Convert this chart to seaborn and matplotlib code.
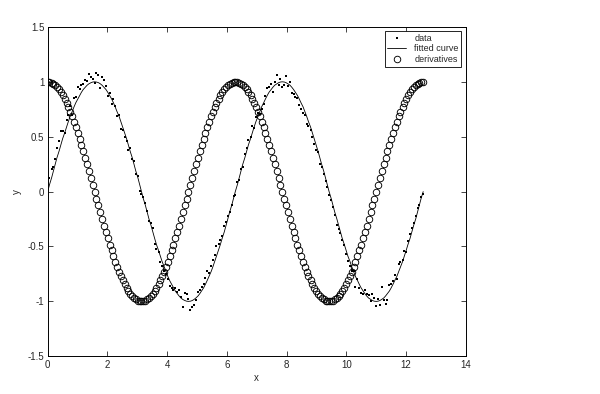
import matplotlib
matplotlib.use("Agg")
import matplotlib.pyplot as plt
import seaborn as sns

# sample positions (0 .. 4*pi)
x_vals = [
    0.00, 0.06, 0.13, 0.19, 0.25, 0.31, 0.38, 0.44, 0.50, 0.57,
    0.63, 0.69, 0.75, 0.82, 0.88, 0.94, 1.01, 1.07, 1.13, 1.19,
    1.26, 1.32, 1.38, 1.45, 1.51, 1.57, 1.63, 1.70, 1.76, 1.82,
    1.88, 1.95, 2.01, 2.07, 2.14, 2.20, 2.26, 2.32, 2.39, 2.45,
    2.51, 2.58, 2.64, 2.70, 2.76, 2.83, 2.89, 2.95, 3.02, 3.08,
    3.14, 3.20, 3.27, 3.33, 3.39, 3.46, 3.52, 3.58, 3.64, 3.71,
    3.77, 3.83, 3.90, 3.96, 4.02, 4.08, 4.15, 4.21, 4.27, 4.34,
    4.40, 4.46, 4.52, 4.59, 4.65, 4.71, 4.78, 4.84, 4.90, 4.96,
    5.03, 5.09, 5.15, 5.22, 5.28, 5.34, 5.40, 5.47, 5.53, 5.59,
    5.65, 5.72, 5.78, 5.84, 5.91, 5.97, 6.03, 6.09, 6.16, 6.22,
    6.28, 6.35, 6.41, 6.47, 6.53, 6.60, 6.66, 6.72, 6.79, 6.85,
    6.91, 6.97, 7.04, 7.10, 7.16, 7.23, 7.29, 7.35, 7.41, 7.48,
    7.54, 7.60, 7.67, 7.73, 7.79, 7.85, 7.92, 7.98, 8.04, 8.11,
    8.17, 8.23, 8.29, 8.36, 8.42, 8.48, 8.55, 8.61, 8.67, 8.73,
    8.80, 8.86, 8.92, 8.99, 9.05, 9.11, 9.17, 9.24, 9.30, 9.36,
    9.42, 9.49, 9.55, 9.61, 9.68, 9.74, 9.80, 9.86, 9.93, 9.99,
    10.05, 10.12, 10.18, 10.24, 10.30, 10.37, 10.43, 10.49, 10.56, 10.62,
    10.68, 10.74, 10.81, 10.87, 10.93, 11.00, 11.06, 11.12, 11.18, 11.25,
    11.31, 11.37, 11.44, 11.50, 11.56, 11.62, 11.69, 11.75, 11.81, 11.88,
    11.94, 12.00, 12.06, 12.13, 12.19, 12.25, 12.32, 12.38, 12.44, 12.50,
    12.57,
]

# noisy measurements
data_y = [
    0.02, 0.12, 0.21, 0.22, 0.30, 0.40, 0.46, 0.55, 0.55, 0.53,
    0.65, 0.70, 0.78, 0.70, 0.85, 0.86, 0.95, 0.93, 0.97, 0.98,
    1.02, 1.01, 1.07, 1.04, 1.03, 0.99, 1.08, 1.06, 0.94, 1.04,
    1.02, 0.96, 0.87, 0.90, 0.80, 0.84, 0.78, 0.69, 0.70, 0.57,
    0.56, 0.50, 0.46, 0.38, 0.40, 0.30, 0.28, 0.16, 0.14, 0.01,
    -0.02, -0.05, -0.10, -0.18, -0.27, -0.29, -0.33, -0.48, -0.52, -0.55,
    -0.64, -0.68, -0.72, -0.75, -0.80, -0.86, -0.88, -0.90, -0.88, -0.91,
    -0.90, -0.96, -1.05, -0.92, -0.93, -0.98, -1.08, -1.05, -1.03, -0.99,
    -0.91, -0.90, -0.87, -0.84, -0.79, -0.72, -0.74, -0.68, -0.62, -0.58,
    -0.50, -0.48, -0.44, -0.40, -0.31, -0.28, -0.22, -0.19, -0.12, -0.04,
    -0.03, 0.09, 0.11, 0.21, 0.22, 0.34, 0.40, 0.47, 0.50, 0.60,
    0.58, 0.68, 0.72, 0.71, 0.75, 0.80, 0.87, 0.94, 0.95, 0.98,
    0.91, 1.00, 1.06, 0.97, 1.03, 0.95, 0.97, 1.05, 0.96, 1.00,
    0.90, 0.89, 0.86, 0.85, 0.79, 0.75, 0.72, 0.70, 0.62, 0.60,
    0.56, 0.50, 0.43, 0.38, 0.36, 0.25, 0.22, 0.16, 0.10, 0.04,
    -0.03, -0.08, -0.14, -0.21, -0.30, -0.34, -0.38, -0.44, -0.49, -0.57,
    -0.63, -0.68, -0.72, -0.72, -0.87, -0.80, -0.88, -0.92, -0.93, -0.90,
    -0.93, -0.94, -1.00, -0.93, -0.97, -1.04, -0.98, -1.03, -0.87, -0.99,
    -1.02, -0.99, -0.85, -0.84, -0.81, -0.76, -0.80, -0.66, -0.64, -0.62,
    -0.54, -0.55, -0.45, -0.39, -0.33, -0.29, -0.22, -0.15, -0.12, -0.05,
    -0.02,
]

# fitted curve
fit_y = [
    0.000, 0.063, 0.125, 0.187, 0.249, 0.309, 0.368, 0.426, 0.482, 0.536,
    0.588, 0.637, 0.685, 0.729, 0.771, 0.809, 0.844, 0.876, 0.905, 0.930,
    0.951, 0.969, 0.982, 0.992, 0.998, 1.000, 0.998, 0.992, 0.982, 0.969,
    0.951, 0.930, 0.905, 0.876, 0.844, 0.809, 0.771, 0.729, 0.685, 0.637,
    0.588, 0.536, 0.482, 0.426, 0.368, 0.309, 0.249, 0.187, 0.125, 0.063,
    0.000, -0.063, -0.125, -0.187, -0.249, -0.309, -0.368, -0.426, -0.482, -0.536,
    -0.588, -0.637, -0.685, -0.729, -0.771, -0.809, -0.844, -0.876, -0.905, -0.930,
    -0.951, -0.969, -0.982, -0.992, -0.998, -1.000, -0.998, -0.992, -0.982, -0.969,
    -0.951, -0.930, -0.905, -0.876, -0.844, -0.809, -0.771, -0.729, -0.685, -0.637,
    -0.588, -0.536, -0.482, -0.426, -0.368, -0.309, -0.249, -0.187, -0.125, -0.063,
    0.000, 0.063, 0.125, 0.187, 0.249, 0.309, 0.368, 0.426, 0.482, 0.536,
    0.588, 0.637, 0.685, 0.729, 0.771, 0.809, 0.844, 0.876, 0.905, 0.930,
    0.951, 0.969, 0.982, 0.992, 0.998, 1.000, 0.998, 0.992, 0.982, 0.969,
    0.951, 0.930, 0.905, 0.876, 0.844, 0.809, 0.771, 0.729, 0.685, 0.637,
    0.588, 0.536, 0.482, 0.426, 0.368, 0.309, 0.249, 0.187, 0.125, 0.063,
    0.000, -0.063, -0.125, -0.187, -0.249, -0.309, -0.368, -0.426, -0.482, -0.536,
    -0.588, -0.637, -0.685, -0.729, -0.771, -0.809, -0.844, -0.876, -0.905, -0.930,
    -0.951, -0.969, -0.982, -0.992, -0.998, -1.000, -0.998, -0.992, -0.982, -0.969,
    -0.951, -0.930, -0.905, -0.876, -0.844, -0.809, -0.771, -0.729, -0.685, -0.637,
    -0.588, -0.536, -0.482, -0.426, -0.368, -0.309, -0.249, -0.187, -0.125, -0.063,
    0.000,
]

# derivatives of the fit
deriv_y = [
    1.000, 0.998, 0.992, 0.982, 0.969, 0.951, 0.930, 0.905, 0.876, 0.844,
    0.809, 0.771, 0.729, 0.685, 0.637, 0.588, 0.536, 0.482, 0.426, 0.368,
    0.309, 0.249, 0.187, 0.125, 0.063, 0.000, -0.063, -0.125, -0.187, -0.249,
    -0.309, -0.368, -0.426, -0.482, -0.536, -0.588, -0.637, -0.685, -0.729, -0.771,
    -0.809, -0.844, -0.876, -0.905, -0.930, -0.951, -0.969, -0.982, -0.992, -0.998,
    -1.000, -0.998, -0.992, -0.982, -0.969, -0.951, -0.930, -0.905, -0.876, -0.844,
    -0.809, -0.771, -0.729, -0.685, -0.637, -0.588, -0.536, -0.482, -0.426, -0.368,
    -0.309, -0.249, -0.187, -0.125, -0.063, 0.000, 0.063, 0.125, 0.187, 0.249,
    0.309, 0.368, 0.426, 0.482, 0.536, 0.588, 0.637, 0.685, 0.729, 0.771,
    0.809, 0.844, 0.876, 0.905, 0.930, 0.951, 0.969, 0.982, 0.992, 0.998,
    1.000, 0.998, 0.992, 0.982, 0.969, 0.951, 0.930, 0.905, 0.876, 0.844,
    0.809, 0.771, 0.729, 0.685, 0.637, 0.588, 0.536, 0.482, 0.426, 0.368,
    0.309, 0.249, 0.187, 0.125, 0.063, 0.000, -0.063, -0.125, -0.187, -0.249,
    -0.309, -0.368, -0.426, -0.482, -0.536, -0.588, -0.637, -0.685, -0.729, -0.771,
    -0.809, -0.844, -0.876, -0.905, -0.930, -0.951, -0.969, -0.982, -0.992, -0.998,
    -1.000, -0.998, -0.992, -0.982, -0.969, -0.951, -0.930, -0.905, -0.876, -0.844,
    -0.809, -0.771, -0.729, -0.685, -0.637, -0.588, -0.536, -0.482, -0.426, -0.368,
    -0.309, -0.249, -0.187, -0.125, -0.063, 0.000, 0.063, 0.125, 0.187, 0.249,
    0.309, 0.368, 0.426, 0.482, 0.536, 0.588, 0.637, 0.685, 0.729, 0.771,
    0.809, 0.844, 0.876, 0.905, 0.930, 0.951, 0.969, 0.982, 0.992, 0.998,
    1.000,
]

x_ticks = [0, 2, 4, 6, 8, 10, 12, 14]
y_ticks = [-1.5, -1, -0.5, 0, 0.5, 1, 1.5]
y_tick_labels = ['-1.5', '-1', '-0.5', '0', '0.5', '1', '1.5']

sns.set_style('ticks')
plt.rcParams['font.family'] = ['Liberation Sans', 'DejaVu Sans']
plt.rcParams['axes.unicode_minus'] = False

fig = plt.figure(figsize=(6, 3.94), dpi=100)
ax = fig.add_axes([0.0795, 0.0957, 0.697, 0.836])

sns.lineplot(x=x_vals, y=data_y, ax=ax, marker='s', linestyle='', color='black',
             markersize=1.7, markeredgewidth=0, label='data', sort=False)
sns.lineplot(x=x_vals, y=fit_y, ax=ax, color='black', linewidth=0.6,
             label='fitted curve', sort=False)
sns.lineplot(x=x_vals, y=deriv_y, ax=ax, marker='o', linestyle='', color='black',
             markerfacecolor='none', markeredgecolor='black', markersize=4.7,
             markeredgewidth=0.65, label='derivatives', sort=False)

ax.set_xlim(0, 14)
ax.set_ylim(-1.5, 1.5)
ax.set_xticks(x_ticks)
ax.set_xticklabels([str(t) for t in x_ticks])
ax.set_yticks(y_ticks)
ax.set_yticklabels(y_tick_labels)
ax.tick_params(direction='in', top=True, right=True, length=3.5, width=0.6,
               labelsize=7, pad=2.5)
for s in ax.spines.values():
    s.set_visible(True)
    s.set_linewidth(0.7)
    s.set_color('black')

ax.set_xlabel('x', fontsize=7, labelpad=2)
ax.set_ylabel('y', fontsize=7, labelpad=4)

leg = ax.legend(loc='upper right', fontsize=6.5, fancybox=False, edgecolor='black',
                framealpha=1, borderaxespad=0.5, borderpad=0.3, labelspacing=0.15,
                handlelength=2.1, handletextpad=0.9)
leg.get_frame().set_linewidth(0.6)

fig.savefig('out.png', dpi=100)
